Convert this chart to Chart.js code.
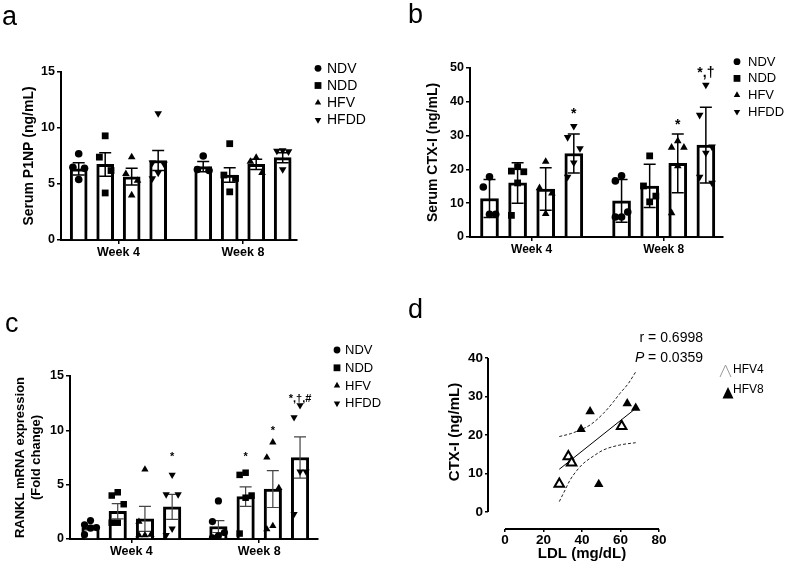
<!DOCTYPE html>
<html>
<head>
<meta charset="utf-8">
<script src="https://cdn.jsdelivr.net/npm/chart.js@4.4.1/dist/chart.umd.min.js"></script>
<style>
  body { margin: 0; background: #fff; }
  #fig { position: relative; width: 787px; height: 569px; }
  canvas { position: absolute; }
</style>
</head>
<body>
<div id="fig">
  <canvas id="panelA" width="393" height="290" style="left:0;top:0"></canvas>
  <canvas id="panelB" width="394" height="290" style="left:393px;top:0"></canvas>
  <canvas id="panelC" width="393" height="279" style="left:0;top:290px"></canvas>
  <canvas id="panelD" width="394" height="279" style="left:393px;top:290px"></canvas>
</div>
<script>
const weeks = ['Week 4', 'Week 8'];
const groups = ['NDV', 'NDD', 'HFV', 'HFDD'];

// a: Serum P1NP (ng/mL), mean ± SEM. Bars: Week 4 NDV..HFDD, then Week 8 NDV..HFDD
const p1npMean = [6.35, 6.75, 5.65, 7.1, 6.55, 5.8, 6.75, 7.35];
const p1npErr = [0.55, 1.05, 0.75, 0.9, 0.45, 0.65, 0.45, 0.45];
const p1npNDV = [[7.7, 6.5, 6.4, 5.4], [7.5, 6.3, 6.2]];
const p1npNDD = [[9.3, 7.4, 6.2, 4.2], [8.6, 5.8, 5.5, 4.3]];
const p1npHFV = [[7.4, 5.9, 5.3, 4.0], [7.35, 7.0, 6.0]];
const p1npHFDD = [[11.3, 6.9, 6.8, 6.0, 5.5], [8.0, 7.95, 7.9, 6.3]];

// b: Serum CTX-I (ng/mL), mean ± SD
const ctxMean = [11.4, 16.0, 14.2, 24.7, 10.7, 15.1, 21.8, 27.2];
const ctxErr = [5.6, 6.0, 6.3, 5.8, 6.3, 6.4, 8.7, 11.2];
const ctxNDV = [[17.8, 14.8, 6.7, 6.7], [18.1, 16.6, 7.4, 5.9, 5.9]];
const ctxNDD = [[20.8, 19.5, 19.3, 16.0, 6.4], [24.0, 15.1, 12.1, 10.4]];
const ctxHFV = [[22.3, 14.5, 12.9, 6.9], [28.4, 26.5, 26.5, 21.0, 7.1]];
const ctxHFDD = [[32.8, 29.5, 26.2, 22.0, 17.8], [45.0, 36.1, 26.7, 24.9, 17.8, 16.0]];
const ctxSig = ['', '', '', '*', '', '', '*', '*,†'];
const ctxSigAt = [0, 0, 0, 37.1, 0, 0, 34.1, 49.5];

// c: RANKL mRNA expression (fold change), mean ± SEM
const rankMean = [1.05, 2.55, 1.85, 2.95, 1.15, 3.9, 4.6, 7.5];
const rankErr = [0.2, 0.7, 1.15, 1.15, 0.55, 0.9, 1.7, 1.9];
const rankNDV = [[1.7, 1.3, 1.05, 1.0, 0.4], [3.5, 1.6, 0.6, 0.3, 0.1]];
const rankNDD = [[4.3, 4.0, 3.2, 1.5, 1.5], [6.1, 5.9, 4.0, 3.8, 0.5]];
const rankHFV = [[6.4, 1.6, 0.4, 0.35, 0.35], [8.9, 7.5, 4.7, 1.2, 0.9]];
const rankHFDD = [[5.9, 4.1, 4.1, 0.95, 0.35], [12.3, 11.2, 6.2, 6.2, 2.3]];
const rankSig = ['', '', '', '*', '', '*', '*', '*,†,#'];
const rankSigAt = [0, 0, 0, 7.8, 0, 7.8, 10.2, 13.2];

// d: CTX-I vs LDL, HFV mice
const ldlHFV4 = [28.2, 32.9, 34.6, 60.6];
const ctxiHFV4 = [7.3, 14.4, 12.8, 22.3];
const ldlHFV8 = [39.5, 44.2, 48.7, 63.5, 67.9];
const ctxiHFV8 = [21.5, 26.1, 7.2, 28.2, 27.0];
const fitLDL = [28.2, 67.9];
const fitCTX = [11.1, 26.9];
const upperLDL = [28.2, 33.8, 39.0, 44.2, 51.1, 56.3, 59.7, 64.1, 67.9];
const upperCTX = [19.6, 20.3, 21.3, 22.6, 25.6, 28.6, 30.8, 33.4, 36.4];
const lowerLDL = [28.2, 31.2, 33.8, 37.2, 40.7, 45.9, 51.1, 59.7, 67.9];
const lowerCTX = [2.7, 5.7, 8.3, 10.7, 12.6, 14.5, 16.1, 17.4, 18.0];
const ldlTicks = [0, 20, 40, 60, 80];
const ctxiTicks = [0, 10, 20, 30, 40];

const FAM = '"Liberation Sans", Arial, sans-serif';
Chart.defaults.font.family = FAM;
Chart.defaults.color = '#000';

// bar slots on a linear x axis, and where the week labels sit
const barX = [1, 2, 3, 4, 5.7, 6.7, 7.7, 8.7];
const weekX = [2.5, 7.2];
const spread = [0, -0.22, 0.22];
const shapes = ['circle', 'rect', 'triangle', 'triangle'];

function drawMark(ctx, k, x, y, r) {
  ctx.beginPath();
  if (k === 0) ctx.arc(x, y, r, 0, Math.PI * 2);
  else if (k === 1) ctx.rect(x - r, y - r, 2 * r, 2 * r);
  else {
    const s = k === 2 ? 1 : -1;
    ctx.moveTo(x, y - s * r * 1.1);
    ctx.lineTo(x + r * 0.95, y + s * r * 0.55);
    ctx.lineTo(x - r * 0.95, y + s * r * 0.55);
  }
  ctx.closePath();
  ctx.fill();
}

function barPanel(id, o) {
  const el = document.getElementById(id);
  const W = el.width, H = el.height;
  const b = o.box;

  const dots = o.points.map((pts, g) => ({
    type: 'line', showLine: false, order: 1,
    data: pts.flatMap((list, w) => list.map((v, i) => ({x: barX[w * 4 + g] + spread[i % 3], y: v}))),
    pointStyle: shapes[g], pointRotation: g === 3 ? 180 : 0,
    pointRadius: o.radius[g], pointBackgroundColor: '#000', pointBorderWidth: 0
  }));

  const extras = {
    id: 'extras',
    afterDatasetDraw(chart, args) {
      if (args.index !== 0) return;
      const {ctx, scales: {x, y}} = chart;
      ctx.save();
      ctx.strokeStyle = o.errColor;
      ctx.lineWidth = o.errWidth;
      ctx.beginPath();
      o.mean.forEach((m, i) => {
        const px = x.getPixelForValue(barX[i]);
        const t = y.getPixelForValue(m + o.err[i]), d = y.getPixelForValue(m - o.err[i]);
        ctx.moveTo(px, t); ctx.lineTo(px, d);
        ctx.moveTo(px - o.cap, t); ctx.lineTo(px + o.cap, t);
        ctx.moveTo(px - o.cap, d); ctx.lineTo(px + o.cap, d);
      });
      ctx.stroke();
      ctx.restore();
    },
    afterDraw(chart) {
      const {ctx, scales: {x, y}} = chart;
      ctx.save();
      ctx.fillStyle = '#000';
      if (o.sig) {
        ctx.font = `bold ${o.sigFont}px ${FAM}`;
        ctx.textAlign = 'center';
        ctx.textBaseline = 'middle';
        o.sig.forEach((s, i) => {
          if (s) ctx.fillText(s, x.getPixelForValue(barX[i]), y.getPixelForValue(o.sigAt[i]) + 3);
        });
      }
      const L = o.legend;
      ctx.font = `${L.font}px ${FAM}`;
      ctx.textAlign = 'left';
      ctx.textBaseline = 'middle';
      groups.forEach((g, k) => {
        const yy = L.y + k * L.dy;
        drawMark(ctx, k, L.x, yy, 3.4);
        ctx.fillText(g, L.tx, yy + 0.5);
      });
      ctx.font = `27px ${FAM}`;
      ctx.textBaseline = 'alphabetic';
      ctx.fillText(o.letter[0], o.letter[1], o.letter[2]);
      ctx.restore();
    }
  };

  const tickGrid = {drawOnChartArea: false, offset: false, tickLength: 4, color: '#000', lineWidth: 1.5};
  new Chart(el, {
    type: 'bar',
    data: {
      datasets: [{
        type: 'bar', order: 2,
        data: o.mean.map((m, i) => ({x: barX[i], y: m})),
        barThickness: o.barW, backgroundColor: '#fff', borderColor: '#000', borderWidth: 3
      }, ...dots]
    },
    options: {
      responsive: false, animation: false,
      layout: {padding: {left: o.padLeft, top: b.top, right: W - b.right, bottom: 0}},
      plugins: {legend: {display: false}, tooltip: {enabled: false}},
      scales: {
        x: {
          type: 'linear', min: o.xMin, max: o.xMax, offset: false,
          afterBuildTicks: s => { s.ticks = weekX.map(v => ({value: v})); },
          afterFit: s => { s.height = H - b.bottom; },
          ticks: {callback: (v, i) => weeks[i], autoSkip: false, maxRotation: 0, padding: 1,
                  font: {size: o.weekFont, weight: 'bold'}},
          grid: tickGrid,
          border: {color: '#000', width: 2}
        },
        y: {
          min: 0, max: o.yMax,
          afterFit: s => { s.width = b.left - o.padLeft; },
          ticks: {stepSize: o.yStep, padding: 2, font: {size: o.tickFont, weight: 'bold'}},
          grid: tickGrid,
          border: {color: '#000', width: 2},
          title: {display: true, text: o.title, padding: 0,
                  font: {size: o.titleFont, weight: 'bold', lineHeight: o.titleLH}}
        }
      }
    },
    plugins: [extras]
  });
}

barPanel('panelA', {
  mean: p1npMean, err: p1npErr, points: [p1npNDV, p1npNDD, p1npHFV, p1npHFDD],
  box: {left: 61, right: 297, top: 72, bottom: 240}, padLeft: 20.6,
  xMin: 0.332, xMax: 9.24, yMax: 15, yStep: 5, barW: 17,
  title: 'Serum P1NP (ng/mL)', titleFont: 14, titleLH: 1.2, tickFont: 12.5, weekFont: 12.5,
  radius: [3.8, 4.8, 4.4, 4.4], errColor: '#000', errWidth: 1.5, cap: 6,
  legend: {x: 318, tx: 327, y: 68.3, dy: 17.2, font: 14},
  letter: ['a', 2, 25]
});

barPanel('panelB', {
  mean: ctxMean, err: ctxErr, points: [ctxNDV, ctxNDD, ctxHFV, ctxHFDD],
  sig: ctxSig, sigAt: ctxSigAt, sigFont: 14,
  box: {left: 77, right: 330, top: 68, bottom: 237}, padLeft: 31.6,
  xMin: 0.306, xMax: 9.31, yMax: 50, yStep: 10, barW: 18,
  title: 'Serum CTX-I (ng/mL)', titleFont: 14, titleLH: 1.2, tickFont: 12.5, weekFont: 12,
  radius: [3.8, 4.8, 4.4, 4.4], errColor: '#000', errWidth: 1.5, cap: 6,
  legend: {x: 344, tx: 355, y: 61.7, dy: 16.7, font: 13},
  letter: ['b', 15, 23]
});

barPanel('panelC', {
  mean: rankMean, err: rankErr, points: [rankNDV, rankNDD, rankHFV, rankHFDD],
  sig: rankSig, sigAt: rankSigAt, sigFont: 11,
  box: {left: 70, right: 318, top: 86, bottom: 249}, padLeft: 11.5,
  xMin: 0.246, xMax: 9.36, yMax: 15, yStep: 5, barW: 17.5,
  title: ['RANKL mRNA expression', '(Fold change)'], titleFont: 13, titleLH: 1.3, tickFont: 12.5, weekFont: 12.5,
  radius: [3.6, 4.6, 4.2, 4.2], errColor: '#444', errWidth: 1.2, cap: 6,
  legend: {x: 337, tx: 345, y: 60, dy: 17.8, font: 13},
  letter: ['c', 5, 42]
});

// d: correlation panel with offset axes drawn by hand
(function () {
  const el = document.getElementById('panelD');
  const W = el.width, H = el.height;
  const pts = (xs, ys) => xs.map((x, i) => ({x, y: ys[i]}));
  const band = {type: 'line', order: 2, borderColor: '#222', borderWidth: 1, borderDash: [3, 2],
                pointRadius: 0, cubicInterpolationMode: 'monotone'};
  const extras = {
    id: 'dExtras',
    afterDraw(chart) {
      const {ctx, chartArea: a, scales: {x, y}} = chart;
      ctx.save();
      ctx.strokeStyle = '#000';
      ctx.lineWidth = 2;
      ctx.beginPath();
      ctx.moveTo(a.left, y.getPixelForValue(ctxiTicks[0]));
      ctx.lineTo(a.left, y.getPixelForValue(ctxiTicks[ctxiTicks.length - 1]));
      ctx.moveTo(x.getPixelForValue(ldlTicks[0]), a.bottom);
      ctx.lineTo(x.getPixelForValue(ldlTicks[ldlTicks.length - 1]), a.bottom);
      ctx.stroke();

      ctx.fillStyle = '#000';
      ctx.font = `bold 15px ${FAM}`;
      ctx.textAlign = 'center';
      ctx.textBaseline = 'middle';
      ctx.fillText('LDL (mg/dL)', (x.getPixelForValue(0) + x.getPixelForValue(80)) / 2, 264);
      ctx.save();
      ctx.translate(62, 142);
      ctx.rotate(-Math.PI / 2);
      ctx.fillText('CTX-I (ng/mL)', 0, 0);
      ctx.restore();

      ctx.font = `14px ${FAM}`;
      ctx.textAlign = 'right';
      ctx.fillText('r = 0.6998', 310, 48);
      const rest = ' = 0.0359';
      ctx.fillText(rest, 310, 68);
      const wRest = ctx.measureText(rest).width;
      ctx.font = `italic 14px ${FAM}`;
      ctx.fillText('P', 310 - wRest, 68);

      // legend
      ctx.strokeStyle = '#999';
      ctx.lineWidth = 1;
      ctx.beginPath();
      ctx.moveTo(327, 87); ctx.lineTo(332.5, 75); ctx.lineTo(338, 87);
      ctx.stroke();
      ctx.beginPath();
      ctx.moveTo(329.5, 108.5); ctx.lineTo(335, 97); ctx.lineTo(340.5, 108.5);
      ctx.closePath();
      ctx.fill();
      ctx.font = `12px ${FAM}`;
      ctx.textAlign = 'left';
      ctx.fillText('HFV4', 340, 80);
      ctx.fillText('HFV8', 340, 100);

      ctx.font = `27px ${FAM}`;
      ctx.textBaseline = 'alphabetic';
      ctx.fillText('d', 15, 28);
      ctx.restore();
    }
  };
  const tickGrid = {drawOnChartArea: false, tickLength: 3, color: '#000', lineWidth: 1.5};
  new Chart(el, {
    type: 'scatter',
    data: {
      datasets: [
        {data: pts(ldlHFV4, ctxiHFV4), order: 1, pointStyle: 'triangle', pointRadius: 5.5,
         pointBackgroundColor: '#fff', pointBorderColor: '#000', pointBorderWidth: 2},
        {data: pts(ldlHFV8, ctxiHFV8), order: 1, pointStyle: 'triangle', pointRadius: 5.5,
         pointBackgroundColor: '#000', pointBorderWidth: 0},
        {type: 'line', order: 2, data: pts(fitLDL, fitCTX), borderColor: '#000', borderWidth: 1, pointRadius: 0},
        {...band, data: pts(upperLDL, upperCTX)},
        {...band, data: pts(lowerLDL, lowerCTX)}
      ]
    },
    options: {
      responsive: false, animation: false,
      layout: {padding: {left: 40, top: 68, right: W - 266, bottom: 0}},
      plugins: {legend: {display: false}, tooltip: {enabled: false}},
      scales: {
        x: {
          type: 'linear', min: -8.83, max: 80,
          afterBuildTicks: s => { s.ticks = ldlTicks.map(v => ({value: v})); },
          afterFit: s => { s.height = H - 239; },
          ticks: {padding: 0, maxRotation: 0, font: {size: 13.5, weight: 'bold'}},
          grid: tickGrid, border: {display: false}
        },
        y: {
          min: -4.42, max: 40,
          afterBuildTicks: s => { s.ticks = ctxiTicks.map(v => ({value: v})); },
          afterFit: s => { s.width = 95 - 40; },
          ticks: {padding: 2, font: {size: 13.5, weight: 'bold'}},
          grid: tickGrid, border: {display: false}
        }
      }
    },
    plugins: [extras]
  });
})();
</script>
</body>
</html>
